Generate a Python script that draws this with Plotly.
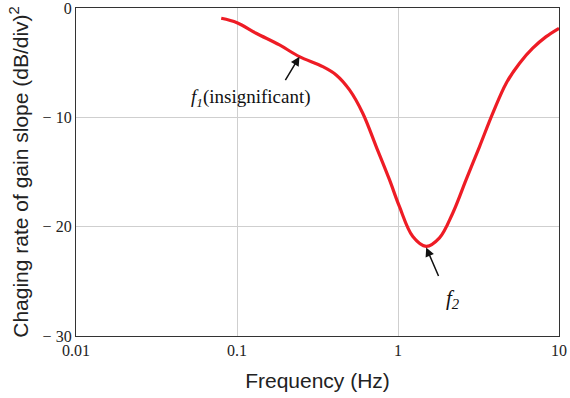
import plotly.graph_objects as go

freq = [0.0798, 0.1, 0.1315, 0.1836, 0.244, 0.341, 0.413, 0.5, 0.604, 0.732, 0.885,
        1.02, 1.236, 1.496, 1.81, 2.19, 2.65, 3.21, 3.88, 4.70, 5.69, 6.87, 8.32, 10.0]
rate = [-0.94, -1.34, -2.31, -3.38, -4.45, -5.36, -6.12, -7.49, -9.62, -12.67, -15.7,
        -18.15, -20.9, -21.8, -21.03, -18.75, -15.7, -12.67, -9.62, -6.88, -5.05, -3.68, -2.62, -1.86]

x_ticks = [0.01, 0.1, 1, 10]
x_ticktext = ["0.01", "0.1", "1", "10"]
y_ticks = [0, -10, -20, -30]
y_ticktext = ["0", "\u2212 10", "\u2212 20", "\u2212 30"]

SERIF = "Liberation Serif, Times New Roman, serif"
SANS = "Liberation Sans, Arial, sans-serif"

fig = go.Figure()
fig.add_trace(go.Scatter(x=freq, y=rate, mode="lines",
                         line=dict(color="#ee1c25", width=3.2, shape="spline", smoothing=1.0),
                         showlegend=False))

fig.update_xaxes(type="log", range=[-2, 1], tickvals=x_ticks, ticktext=x_ticktext,
                 showgrid=True, gridcolor="#cfcfcf", gridwidth=1,
                 showline=True, linecolor="#333333", linewidth=1.3, mirror=True,
                 ticks="", tickfont=dict(family=SERIF, size=16, color="#222"),
                 ticklabeloverflow="allow",
                 title=dict(text="Frequency (Hz)", font=dict(family=SANS, size=21, color="#222"),
                            standoff=14),
                 zeroline=False, automargin=False)
fig.update_yaxes(range=[-30, 0], tickvals=y_ticks, ticktext=y_ticktext,
                 showgrid=True, gridcolor="#cfcfcf", gridwidth=1,
                 showline=True, linecolor="#333333", linewidth=1.3, mirror=True,
                 ticks="", tickfont=dict(family=SERIF, size=16, color="#222"),
                 ticklabeloverflow="allow",
                 title=dict(text="Chaging rate of gain slope (dB/div)<sup>2</sup>",
                            font=dict(family=SANS, size=21, color="#222"), standoff=8),
                 zeroline=False, automargin=False)

fig.add_annotation(x=-0.612, y=-4.45, xref="x", yref="y", text="", showarrow=True,
                   arrowhead=2, arrowsize=1.2, arrowwidth=1.5, arrowcolor="#111", ax=-15, ay=25)
fig.add_annotation(x=0.175, y=-21.9, xref="x", yref="y", text="", showarrow=True,
                   arrowhead=2, arrowsize=1.2, arrowwidth=1.5, arrowcolor="#111", ax=13, ay=30)
fig.add_annotation(x=-0.91, y=-8.2, xref="x", yref="y",
                   text="<i>f<sub>1</sub></i>(insignificant)", showarrow=False,
                   font=dict(family=SERIF, size=19, color="#111"))
fig.add_annotation(x=0.34, y=-26.6, xref="x", yref="y",
                   text="<i>f<sub>2</sub></i>", showarrow=False,
                   font=dict(family=SERIF, size=21, color="#111"))

fig.update_layout(width=570, height=398, margin=dict(l=76, r=11, t=8, b=62),
                  plot_bgcolor="white", paper_bgcolor="white")
fig.write_html("out.html")
